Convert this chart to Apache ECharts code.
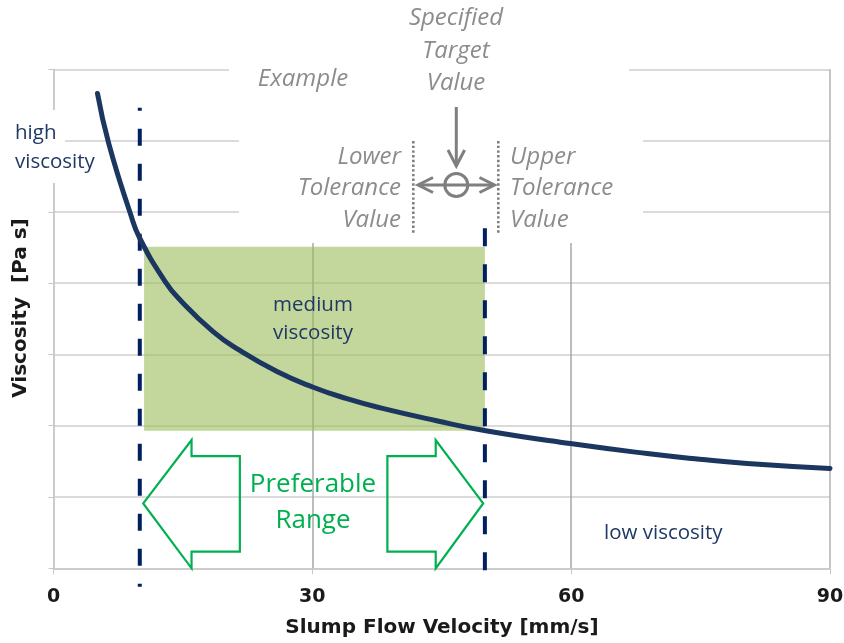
<!DOCTYPE html>
<html>
<head>
<meta charset="utf-8">
<script src="https://cdn.jsdelivr.net/npm/echarts@6/dist/echarts.min.js"></script>
<style>
html,body{margin:0;padding:0;background:#fff;}
#c{width:844px;height:643px;}
</style>
</head>
<body>
<div id="c"></div>
<script>
// ---- data ----
const xTicks = [0, 30, 60, 90];
const yRange = [0, 7];
const curveX = [5.1, 6.4, 8.9, 10.0, 12.9, 14.7, 18.5, 21.4, 25.9, 30.1, 34.0, 37.9, 44.4, 50.1, 59.9, 68.8, 74.9, 80.4, 90.0];
const curveY = [6.66, 5.96, 4.98, 4.63, 4.03, 3.76, 3.32, 3.07, 2.76, 2.54, 2.38, 2.25, 2.07, 1.93, 1.75, 1.61, 1.53, 1.47, 1.40];
const lowerLimitX = [10, 10];
const lowerLimitY = [6.46, -0.26];
const upperLimitX = [50, 50];
const upperLimitY = [4.77, -0.26];
const preferredX = [10.5, 50.0];
const preferredY = [1.93, 4.51];
// block arrow outlines (data coordinates)
const leftArrowX  = [10.4, 16.0, 16.0, 21.6, 21.6, 16.0, 16.0];
const leftArrowY  = [0.91, 1.80, 1.575, 1.575, 0.233, 0.233, 0.0];
const rightArrowX = [49.8, 44.3, 44.3, 38.7, 38.7, 44.3, 44.3];
const rightArrowY = [0.91, 1.80, 1.575, 1.575, 0.233, 0.233, 0.0];

const zip = (a, b) => a.map((v, i) => [v, b[i]]);
const arrows = [zip(leftArrowX, leftArrowY), zip(rightArrowX, rightArrowY)];

const navy = '#1f3864';
const gray = '#8c8c8c';
const green = '#00b050';
const navyLine = '#002060';
const black = '#1a1a1a';

const chart = echarts.init(document.getElementById('c'), null, {renderer: 'canvas'});

function txt(text, x, y, font, fill, align) {
  return {type: 'text', z: 10, x: x, y: y,
    style: {text: text, font: font, fill: fill, align: align || 'center', verticalAlign: 'middle'}};
}
const gFont = 'italic 24px "Open Sans"';
const nFont = '20.5px "Open Sans"';
const bFont = 'bold 20px "DejaVu Sans"';

chart.setOption({
  animation: false,
  backgroundColor: '#fff',
  grid: {left: 53.5, right: 14, top: 69.3, bottom: 74.7, outerBoundsMode: 'none'},
  xAxis: {
    type: 'value', min: xTicks[0], max: xTicks[xTicks.length - 1], interval: 30,
    axisLine: {show: true, lineStyle: {color: '#c8c8c8', width: 1.5}},
    axisTick: {show: true, length: 6, lineStyle: {color: '#c8c8c8'}},
    axisLabel: {fontSize: 19, fontWeight: 'bold', color: black, fontFamily: 'DejaVu Sans', margin: 19,
      showMinLabel: true, showMaxLabel: true},
    splitLine: {show: true, lineStyle: {color: ['#c8c8c8', '#a6a6a6', '#a6a6a6', '#b0b0b0'], width: 1.5}}
  },
  yAxis: {
    type: 'value', min: yRange[0], max: yRange[1], interval: 1,
    axisLine: {show: true, lineStyle: {color: '#c8c8c8', width: 1.5}},
    axisTick: {show: true, length: 5, lineStyle: {color: '#c8c8c8'}},
    axisLabel: {show: false},
    splitLine: {show: true, lineStyle: {color: '#cfcfcf', width: 1.5}}
  },
  series: [
    {
      type: 'line', z: 2, silent: true, symbol: 'none', data: [],
      markArea: {
        silent: true,
        itemStyle: {color: 'rgba(155,187,89,0.6)'},
        data: [[{coord: [preferredX[0], preferredY[0]]}, {coord: [preferredX[1], preferredY[1]]}]]
      }
    },
    {
      type: 'custom', z: 3, silent: true, clip: false,
      data: [0, 1],
      renderItem: function (params, api) {
        const pts = arrows[params.dataIndex].map(p => api.coord(p));
        return {type: 'polygon', shape: {points: pts},
          style: {fill: 'none', stroke: green, lineWidth: 2.2, lineJoin: 'miter'}};
      }
    },
    {
      type: 'line', z: 4, silent: true, symbol: 'none', clip: false,
      data: zip(lowerLimitX, lowerLimitY),
      lineStyle: {color: navyLine, width: 4, type: [17, 18], dashOffset: 14}
    },
    {
      type: 'line', z: 4, silent: true, symbol: 'none', clip: false,
      data: zip(upperLimitX, upperLimitY),
      lineStyle: {color: navyLine, width: 4, type: [18, 18]}
    },
    {
      type: 'line', z: 5, silent: true, symbol: 'none', smooth: 0.5,
      data: zip(curveX, curveY),
      lineStyle: {color: '#1b365f', width: 5, cap: 'round'}
    }
  ],
  graphic: [
    // white text-box backgrounds hiding parts of the grid
    {type: 'rect', z: 1, shape: {x: 229, y: 55, width: 400, height: 45}, style: {fill: '#fff'}},
    {type: 'rect', z: 1, shape: {x: 239, y: 100, width: 404, height: 143}, style: {fill: '#fff'}},
    {type: 'rect', z: 1, shape: {x: 0, y: 110, width: 65, height: 73}, style: {fill: '#fff'}},

    txt('Example', 303, 79, gFont, gray),
    txt('Specified', 456, 18, gFont, gray),
    txt('Target', 456, 51, gFont, gray),
    txt('Value', 456, 83, gFont, gray),
    txt('Lower', 401, 157, gFont, gray, 'right'),
    txt('Tolerance', 401, 188, gFont, gray, 'right'),
    txt('Value', 401, 220, gFont, gray, 'right'),
    txt('Upper', 510, 157, gFont, gray, 'left'),
    txt('Tolerance', 510, 188, gFont, gray, 'left'),
    txt('Value', 510, 220, gFont, gray, 'left'),

    // target symbol
    {type: 'line', z: 10, shape: {x1: 456.3, y1: 107, x2: 456.3, y2: 165}, style: {stroke: '#7f7f7f', lineWidth: 3}},
    {type: 'polyline', z: 10, shape: {points: [[448, 150], [456.3, 166], [464.6, 150]]}, style: {stroke: '#7f7f7f', lineWidth: 3, fill: 'none'}},
    {type: 'circle', z: 10, shape: {cx: 456.3, cy: 185, r: 11.5}, style: {stroke: '#7f7f7f', lineWidth: 3, fill: 'none'}},
    {type: 'line', z: 10, shape: {x1: 418, y1: 185, x2: 494, y2: 185}, style: {stroke: '#7f7f7f', lineWidth: 3}},
    {type: 'polyline', z: 10, shape: {points: [[433, 177.5], [418, 185], [433, 192.5]]}, style: {stroke: '#7f7f7f', lineWidth: 3, fill: 'none'}},
    {type: 'polyline', z: 10, shape: {points: [[479.5, 177.5], [494.5, 185], [479.5, 192.5]]}, style: {stroke: '#7f7f7f', lineWidth: 3, fill: 'none'}},
    {type: 'line', z: 10, shape: {x1: 413.3, y1: 141, x2: 413.3, y2: 233}, style: {stroke: '#7f7f7f', lineWidth: 2.6, lineDash: [2.4, 2.3]}},
    {type: 'line', z: 10, shape: {x1: 498.3, y1: 141, x2: 498.3, y2: 233}, style: {stroke: '#7f7f7f', lineWidth: 2.6, lineDash: [2.4, 2.3]}},

    txt('high', 15, 133, nFont, navy, 'left'),
    txt('viscosity', 15, 162, nFont, navy, 'left'),
    txt('medium', 313, 305, nFont, navy),
    txt('viscosity', 313, 333, nFont, navy),
    txt('low viscosity', 604, 533, nFont, navy, 'left'),
    txt('Preferable', 313, 485, '26px "Open Sans"', green),
    txt('Range', 313, 521, '26px "Open Sans"', green),

    // axis titles
    {type: 'text', z: 10, x: 21, y: 308, rotation: Math.PI / 2,
      style: {text: 'Viscosity  [Pa s]', font: bFont, fill: black, align: 'center', verticalAlign: 'middle'}},
    txt('Slump Flow Velocity [mm/s]', 442, 628, bFont, black)
  ]
});
</script>
</body>
</html>
